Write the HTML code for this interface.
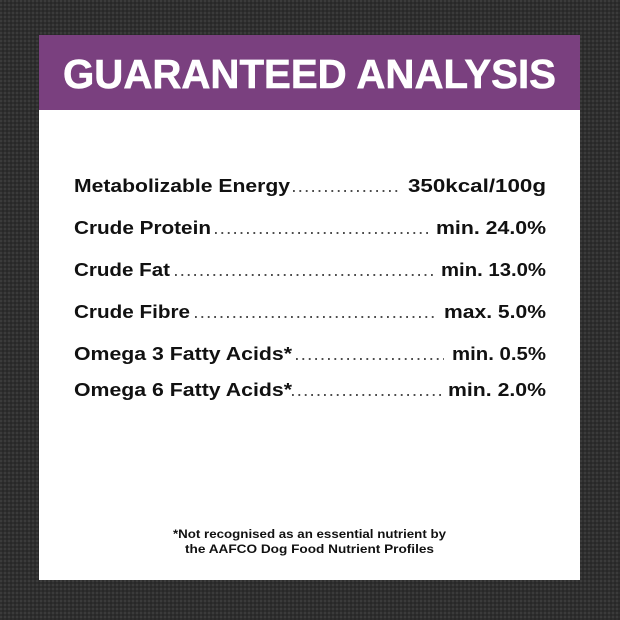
<!DOCTYPE html>
<html><head><meta charset="utf-8"><style>
html,body{margin:0;padding:0;width:620px;height:620px;overflow:hidden;background:#363636;}
svg{display:block}
text{font-family:"Liberation Sans",sans-serif;font-weight:bold;}
</style></head><body>
<svg width="620" height="620" viewBox="0 0 620 620" xmlns="http://www.w3.org/2000/svg">
<defs>
<pattern id="tex" width="4" height="4" patternUnits="userSpaceOnUse">
<rect width="4" height="4" fill="#2e2e2e"/>
<circle cx="1" cy="1" r="0.9" fill="#444"/>
<circle cx="3" cy="3" r="0.9" fill="#242424"/>
</pattern>
</defs>
<rect width="620" height="620" fill="url(#tex)"/>
<rect x="39" y="35" width="541" height="545" fill="#fff"/>
<rect x="39" y="35" width="541" height="75" fill="#7a407f"/>
<text x="63" y="88" font-size="41" fill="#fff" stroke="#fff" stroke-width="0.6" textLength="493" lengthAdjust="spacingAndGlyphs">GUARANTEED ANALYSIS</text>
<g font-size="18" fill="#111">
<text x="74" y="192" textLength="216" lengthAdjust="spacingAndGlyphs">Metabolizable Energy</text>
<text x="408" y="192" textLength="138" lengthAdjust="spacingAndGlyphs">350kcal/100g</text>
<text x="74" y="234" textLength="137" lengthAdjust="spacingAndGlyphs">Crude Protein</text>
<text x="436" y="234" textLength="110" lengthAdjust="spacingAndGlyphs">min. 24.0%</text>
<text x="74" y="276" textLength="96" lengthAdjust="spacingAndGlyphs">Crude Fat</text>
<text x="441" y="276" textLength="105" lengthAdjust="spacingAndGlyphs">min. 13.0%</text>
<text x="74" y="318" textLength="116" lengthAdjust="spacingAndGlyphs">Crude Fibre</text>
<text x="444" y="318" textLength="102" lengthAdjust="spacingAndGlyphs">max. 5.0%</text>
<text x="74" y="360" textLength="218" lengthAdjust="spacingAndGlyphs">Omega 3 Fatty Acids*</text>
<text x="452" y="360" textLength="94" lengthAdjust="spacingAndGlyphs">min. 0.5%</text>
<text x="74" y="396" textLength="218" lengthAdjust="spacingAndGlyphs">Omega 6 Fatty Acids*</text>
<text x="448" y="396" textLength="98" lengthAdjust="spacingAndGlyphs">min. 2.0%</text>
</g>
<g stroke="#333" stroke-width="1.8" stroke-dasharray="1.8 4.6" fill="none">
<line x1="293" y1="191" x2="400" y2="191"/>
<line x1="215" y1="233" x2="432" y2="233"/>
<line x1="175" y1="275" x2="436" y2="275"/>
<line x1="195" y1="317" x2="438" y2="317"/>
<line x1="296" y1="359" x2="444" y2="359"/>
<line x1="292" y1="395" x2="444" y2="395"/>
</g>
<g font-size="12" fill="#111">
<text x="173" y="538" textLength="273" lengthAdjust="spacingAndGlyphs">*Not recognised as an essential nutrient by</text>
<text x="185" y="553" textLength="249" lengthAdjust="spacingAndGlyphs">the AAFCO Dog Food Nutrient Profiles</text>
</g>
</svg>
</body></html>
